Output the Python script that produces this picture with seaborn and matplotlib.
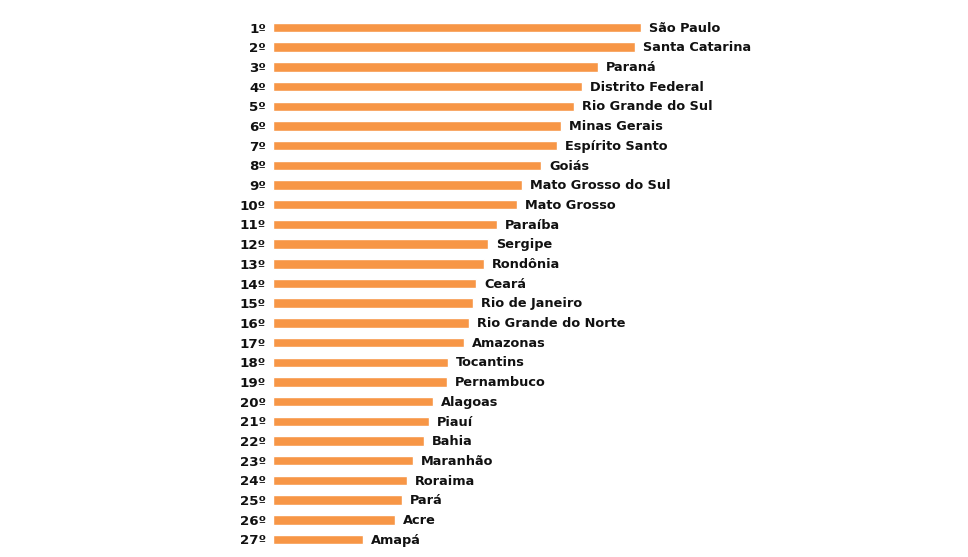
import matplotlib
matplotlib.use("Agg")
import matplotlib.pyplot as plt
import pandas as pd
import seaborn as sns

# ── Data ─────────────────────────────────────────────────────────────────────
ranks = [f"{i}º" for i in range(1, 28)]
states = [
    "São Paulo", "Santa Catarina", "Paraná", "Distrito Federal",
    "Rio Grande do Sul", "Minas Gerais", "Espírito Santo", "Goiás",
    "Mato Grosso do Sul", "Mato Grosso", "Paraíba", "Sergipe", "Rondônia",
    "Ceará", "Rio de Janeiro", "Rio Grande do Norte", "Amazonas",
    "Tocantins", "Pernambuco", "Alagoas", "Piauí", "Bahia", "Maranhão",
    "Roraima", "Pará", "Acre", "Amapá",
]
values = [368, 362, 325, 309, 301, 288, 284, 268, 249, 244, 224, 215, 211,
          203, 200, 196, 191, 175, 174, 160, 156, 151, 140, 134, 129, 122, 90]

BAR_COLOR = "#F79646"

df = pd.DataFrame({"rank": ranks, "state": states, "value": values})

# ── Plot ─────────────────────────────────────────────────────────────────────
sns.set_theme(style="white")
plt.rcParams["font.family"] = ["DejaVu Sans"]

W, H = 968, 557
fig = plt.figure(figsize=(W / 100, H / 100), dpi=100)
row = (539 - 27) / 26
top_px, bot_px = 27.5 - row / 2, 539.5 + row / 2
ax = fig.add_axes([273 / W, (H - bot_px) / H, 400 / W, (bot_px - top_px) / H])

sns.barplot(data=df, y="rank", x="value", color=BAR_COLOR, orient="h",
            width=0.48, saturation=1, ax=ax)

for i, (name, v) in enumerate(zip(df["state"], df["value"])):
    ax.annotate(name, (v, i), xytext=(6, -0.5), textcoords="offset points",
                va="center", ha="left", fontsize=9.3, fontweight="bold",
                color="#111111")

ax.set_xlim(0, 400)
ax.set_ylim(26.5, -0.5)
ax.set_xlabel("")
ax.set_ylabel("")
ax.set_xticks([])
ax.tick_params(axis="y", length=0, pad=5)
for lbl in ax.get_yticklabels():
    lbl.set_fontweight("bold")
    lbl.set_fontsize(9.6)
    lbl.set_color("#111111")
sns.despine(ax=ax, left=True, bottom=True)

fig.savefig("out.png", dpi=100, facecolor="white")
